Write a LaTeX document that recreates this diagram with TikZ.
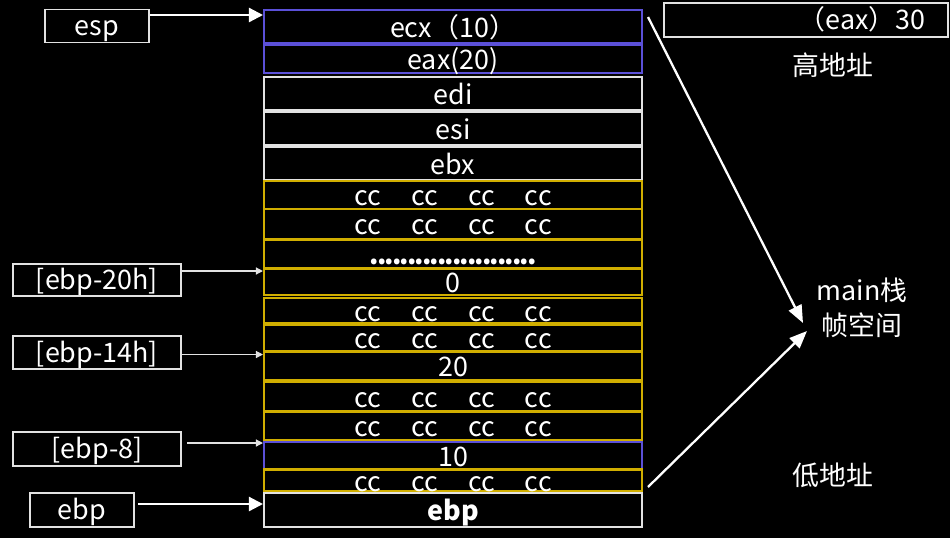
\documentclass[tikz,border=0pt]{standalone}
\usepackage{fontspec}
\setmainfont{Noto Sans CJK SC}
\usepackage{xcolor}
\usepackage{tikz}
\usetikzlibrary{positioning, arrows.meta}

\definecolor{slotpurple}{HTML}{5B50D8}
\definecolor{slotyellow}{HTML}{D0AE00}
\definecolor{slotgray}{HTML}{E2E2E2}
\newcommand{\ccrow}{cc\hspace{1.12em}cc\hspace{1.12em}cc\hspace{1.12em}cc}

\begin{document}
\begin{tikzpicture}[
    x=0.02cm, y=-0.02cm,
    font=\fontsize{15.3pt}{18pt}\selectfont,
    cell/.style={draw=slotgray, line width=1.2pt, text=white, minimum width=7.56cm, inner sep=0pt, text height=12.5pt, text depth=0pt},
    regcell/.style={cell, draw=slotpurple},
    padcell/.style={cell, draw=slotyellow},
    tag/.style={draw=slotgray, line width=1pt, text=white, minimum height=0.66cm, inner sep=0pt, text height=11pt, text depth=0pt},
    ptr/.style={-{Triangle[length=8pt, width=8pt]}, white, line width=1.3pt},
    thinptr/.style={-{Triangle[length=4pt, width=4pt]}, slotgray, line width=0.7pt},
    bigptr/.style={-{Triangle[length=10pt, width=8pt]}, white, line width=1.3pt},
    note/.style={text=white, align=center},
]
\fill[black] (0,0) rectangle (950,538);

% stack slots
\node[regcell, minimum height=0.66cm] (ecx) at (453, 26.5) {ecx（10）};
\node[regcell, minimum height=0.56cm] (eax) at (453, 59) {eax(20)};
\node[cell, minimum height=0.66cm] (edi) at (453, 93.5) {edi};
\node[cell, minimum height=0.66cm] (esi) at (453, 128.5) {esi};
\node[cell, minimum height=0.66cm] (ebx) at (453, 163.5) {ebx};
\node[padcell, minimum height=0.56cm] (ccA) at (453, 195) {\ccrow};
\node[padcell, minimum height=0.60cm] (ccB) at (453, 224) {\ccrow};
\node[padcell, minimum height=0.56cm] (dots) at (453, 254) {\bfseries\hbox to 3.3cm{\leaders\hbox to 0.15cm{\hss.\hss}\hfill}};
\node[padcell, minimum height=0.52cm] (v0) at (453, 282) {0};
\node[padcell, minimum height=0.50cm] (ccC) at (453, 310.5) {\ccrow};
\node[padcell, minimum height=0.52cm] (ccD) at (453, 338) {\ccrow};
\node[padcell, minimum height=0.56cm] (v20) at (453, 366) {20};
\node[padcell, minimum height=0.58cm] (ccE) at (453, 396.5) {\ccrow};
\node[padcell, minimum height=0.56cm] (ccF) at (453, 426) {\ccrow};
\node[regcell, minimum height=0.56cm] (v10) at (453, 456) {10};
\node[padcell, minimum height=0.42cm] (ccG) at (453, 480.5) {\ccrow};
\node[cell, minimum height=0.68cm, font=\fontsize{15.3pt}{18pt}\selectfont\bfseries] (ebpslot) at (453, 510) {ebp};

% pointers on the left
\node[tag, minimum width=2.08cm] (esp) at (97, 26) {esp};
\node[tag, minimum width=3.36cm, minimum height=0.64cm] (off20) at (97, 280) {[ebp-20h]};
\node[tag, minimum width=3.36cm] (off14) at (97, 352.5) {[ebp-14h]};
\node[tag, minimum width=3.36cm, minimum height=0.68cm] (off8) at (97, 449) {[ebp-8]};
\node[tag, minimum width=2.08cm, minimum height=0.68cm] (ebp) at (82, 510) {ebp};

\draw[ptr] ([yshift=0.22cm]esp.east) -- ([yshift=0.22cm]esp.east -| ecx.west);
\draw[thinptr] ([yshift=0.18cm]off20.east) -- ([yshift=0.18cm]off20.east -| v0.west);
\draw[thinptr] ([yshift=-0.04cm]off14.east) -- ([yshift=-0.04cm]off14.east -| v20.west);
\draw[thinptr, shorten <=3pt] ([yshift=0.12cm]off8.east) -- ([yshift=0.12cm]off8.east -| v10.west);
\draw[ptr, shorten <=2pt] ([yshift=0.12cm]ebp.east) -- ([yshift=0.12cm]ebp.east -| ebpslot.west);

% right side
\node[tag, minimum width=5.68cm, minimum height=0.68cm] (ret) at (806, 20) {\hspace*{2.24cm}（eax）30};
\node[note] (high) at (833, 65) {高地址};
\node[note, font=\fontsize{15.3pt}{20pt}\selectfont] (frame) at (862, 308) {main栈\\帧空间};
\node[note] (low) at (833, 475) {低地址};

\coordinate (topstart) at (648, 17);
\coordinate (botstart) at (648, 487);
\coordinate (toptip) at (803, 323);
\coordinate (bottip) at (807, 331);
\draw[bigptr] (topstart) -- (toptip);
\draw[bigptr] (botstart) -- (bottip);
\end{tikzpicture}
\end{document}
